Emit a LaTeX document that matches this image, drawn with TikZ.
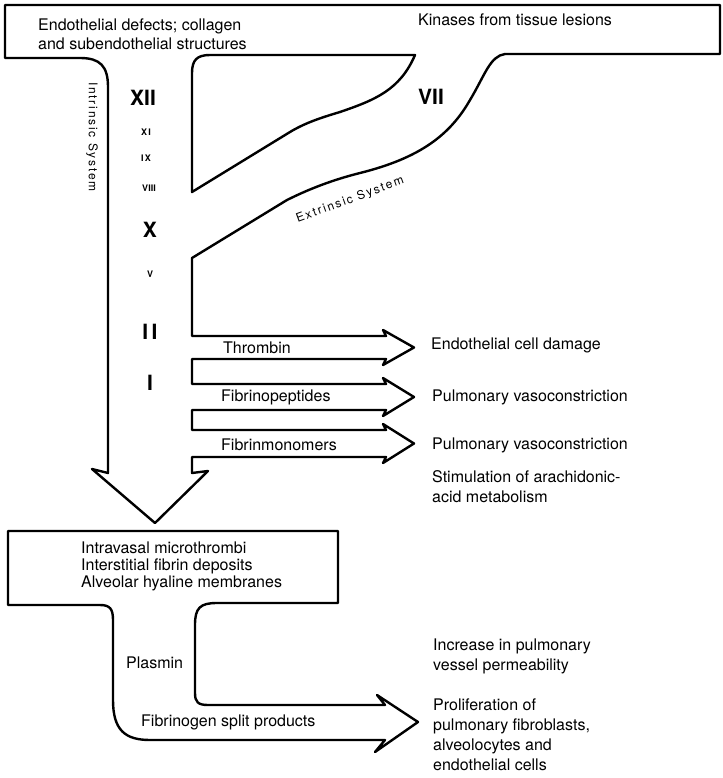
\documentclass[tikz,border=0pt]{standalone}
\usepackage{fontspec}
\setmainfont{TeX Gyre Heros}
\newfontfamily\sysfont[LetterSpace=15]{TeX Gyre Heros}
\usetikzlibrary{math}

\begin{document}
\begin{tikzpicture}[x=1pt,y=-1pt,line width=2.4pt,line join=round,
  txt/.style={anchor=base west,inner sep=0pt,align=left,font=\fontsize{16}{19.7}\selectfont},
  bignum/.style={inner sep=0pt,font=\bfseries\fontsize{21}{21}\selectfont},
  smallnum/.style={inner sep=0pt,font=\bfseries\fontsize{9}{9}\selectfont},
  sys/.style={inner sep=0pt,font=\sysfont\fontsize{12}{12}\selectfont}]
\tikzmath{
\xa=108;%intrinsic path, left wall
\xb=192;%intrinsic path, right wall
\xs=386;%end of arrow shafts
\xt=414;%arrow tips
}
\useasboundingbox (0,0) rectangle (722,778);

%upper box, intrinsic and extrinsic paths, side arrows
\draw (\xa,473) -- (\xa,87) .. controls (\xa,66) and (100,58) .. (80,58) -- (5,58) -- (5,5) -- (720,5) -- (720,54) -- (505,54)
  .. controls (490,56) and (485,75) .. (470,100)
  .. controls (450,135) and (420,158) .. (360,173)
  .. controls (340,178) and (315,186) .. (287,200) -- (\xb,258)
  \foreach \t/\b in {336/359,384/410,430/457}{
  -- (\xb,\t) -- (\xs,\t) -- (\xs-3,\t-6) -- (\xt,{(\t+\b)/2}) -- (\xs-3,\b+6) -- (\xs,\b) -- (\xb,\b)}
  -- (\xb,473) -- (208,471) -- (155,523) -- (92,469) -- cycle;

%island between the two systems
\draw (\xb,192) -- (\xb,73) .. controls (\xb,60) and (197,55) .. (210,55) -- (415,55)
  .. controls (400,90) and (375,100) .. (340,112)
  .. controls (320,118) and (305,123) .. (290,132) -- cycle;

%lower box and fibrinolysis arrow
\draw (8,531) -- (338,531) -- (338,603) -- (217,603) .. controls (200,603) and (195,608) .. (195,625)
  -- (195,693) .. controls (195,702) and (198,705) .. (208,705) -- (385,705) -- (377,695) -- (418,722)
  -- (375,752) -- (385,740) -- (150,740) .. controls (125,740) and (113,730) .. (113,700)
  -- (113,620) .. controls (113,609) and (110,605) .. (100,605) -- (8,605) -- cycle;

%factors
\node[bignum] (f12) at (143,98) {XII};
\node[smallnum] (f11) at (146,132) {X\,I};
\node[smallnum] (f9) at (146,158) {I\,X};
\node[smallnum] (f8) at (149,188) {VIII};
\node[bignum] (f10) at (150,230) {X};
\node[smallnum] (f5) at (150,274) {V};
\node[bignum] (f2) at (150,332) {I\,I};
\node[bignum] (f1) at (150,383) {I};
\node[bignum] (f7) at (431,97) {VII};
\node[sys,rotate=-90] (intr) at (92,137) {Intrinsic System};
\node[sys,rotate=20] (extr) at (350,200) {Extrinsic System};

%texts
\node[txt] (endo) at (37,50) {Endothelial defects; collagen\\and subendothelial structures};
\node[txt] (kin) at (417,26) {Kinases from tissue lesions};
\node[txt] (thr) at (222,353) {Thrombin};
\node[txt] (fpep) at (220,401) {Fibrinopeptides};
\node[txt] (fmon) at (220,450) {Fibrinmonomers};
\node[txt] (dmg) at (430,349) {Endothelial cell damage};
\node[txt] (vaso1) at (431,401) {Pulmonary vasoconstriction};
\node[txt] (vaso2) at (431,449) {Pulmonary vasoconstriction};
\node[txt] (arach) at (431,502) {Stimulation of arachidonic-\\acid metabolism};
\node[txt,font=\fontsize{16}{17}\selectfont] (micro) at (80,587) {Intravasal microthrombi\\Interstitial fibrin deposits\\Alveolar hyaline membranes};
\node[txt] (plas) at (125,668) {Plasmin};
\node[txt] (fsp) at (140,726) {Fibrinogen split products};
\node[txt] (perm) at (432,670) {Increase in pulmonary\\vessel permeability};
\node[txt] (prol) at (432,770) {Proliferation of\\pulmonary fibroblasts,\\alveolocytes and\\endothelial cells};
\end{tikzpicture}
\end{document}
